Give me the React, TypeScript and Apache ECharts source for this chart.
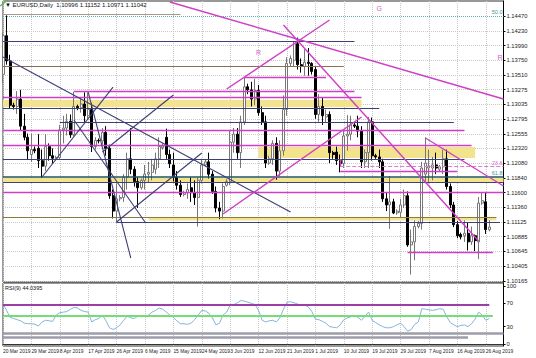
import React, { useEffect, useRef } from "react";
import * as echarts from "echarts";

// ---------- categories (daily bars incl. Sunday bars) ----------
const marDays = [20, 21, 22, 24, 25, 26, 27, 28, 29, 31];
const aprDays = [1, 2, 3, 4, 5, 7, 8, 9, 10, 11, 12, 14, 15, 16, 17, 18, 19, 21, 22, 23, 24, 25, 26, 28, 29, 30];
const mayDays = [1, 2, 3, 5, 6, 7, 8, 9, 10, 12, 13, 14, 15, 16, 17, 19, 20, 21, 22, 23, 24, 26, 27, 28, 29, 30, 31];
const junDays = [2, 3, 4, 5, 6, 7, 9, 10, 11, 12, 13, 14, 16, 17, 18, 19, 20, 21, 23, 24, 25, 26, 27, 28, 30];
const julDays = [1, 2, 3, 4, 5, 7, 8, 9, 10, 11, 12, 14, 15, 16, 17, 18, 19, 21, 22, 23, 24, 25, 26, 28, 29, 30, 31];
const augDays = [1, 2, 4, 5, 6, 7, 8, 9, 11, 12, 13, 14, 15, 16, 18, 19, 20, 21, 22, 23, 25, 26, 27];
const dates: string[] = [
  ...marDays.map((d) => `${d} Mar 2019`),
  ...aprDays.map((d) => `${d} Apr 2019`),
  ...mayDays.map((d) => `${d} May 2019`),
  ...junDays.map((d) => `${d} Jun 2019`),
  ...julDays.map((d) => `${d} Jul 2019`),
  ...augDays.map((d) => `${d} Aug 2019`),
];
const shiftSlots = [" ", "  ", "   ", "    "];

// ---------- EURUSD daily OHLC ----------
const opens = [
  1.1352, 1.1415, 1.1374, 1.1302, 1.1300, 1.1312, 1.1268, 1.1250, 1.1222, 1.1230,
  1.1232, 1.1212, 1.1203, 1.1235, 1.1220, 1.1216, 1.1217, 1.1262, 1.1265, 1.1276,
  1.1254, 1.1300, 1.1298, 1.1304, 1.1285, 1.1295, 1.1235, 1.1245, 1.1244, 1.1258,
  1.1232, 1.1155, 1.1130, 1.1150, 1.1152, 1.1185, 1.1215, 1.1198, 1.1178, 1.1168,
  1.1180, 1.1190, 1.1193, 1.1198, 1.1215, 1.1233, 1.1250, 1.1222, 1.1205, 1.1185,
  1.1172, 1.1157, 1.1160, 1.1168, 1.1160, 1.1152, 1.1180, 1.1205, 1.1210, 1.1190,
  1.1162, 1.1135, 1.1130, 1.1172, 1.1178, 1.1242, 1.1255, 1.1225, 1.1275, 1.1332,
  1.1327, 1.1312, 1.1326, 1.1290, 1.1275, 1.1208, 1.1215, 1.1240, 1.1195, 1.1228,
  1.1295, 1.1370, 1.1375, 1.1402, 1.1368, 1.1365, 1.1372, 1.1370, 1.1360, 1.1287,
  1.1300, 1.1283, 1.1287, 1.1225, 1.1226, 1.1212, 1.1207, 1.1252, 1.1255, 1.1270,
  1.1268, 1.1260, 1.1210, 1.1225, 1.1275, 1.1220, 1.1218, 1.1210, 1.1150, 1.1140,
  1.1145, 1.1127, 1.1128, 1.1140, 1.1155, 1.1075, 1.1080, 1.1105, 1.1110, 1.1190,
  1.1200, 1.1200, 1.1205, 1.1198, 1.1202, 1.1215, 1.1170, 1.1140, 1.1108, 1.1092,
  1.1090, 1.1094, 1.1080, 1.1090, 1.1080, 1.1143, 1.1145, 1.10996,
];
const closes = [
  1.1415, 1.1374, 1.1302, 1.1300, 1.1312, 1.1268, 1.1250, 1.1228, 1.1230, 1.1228,
  1.1212, 1.1203, 1.1235, 1.1220, 1.1216, 1.1217, 1.1262, 1.1265, 1.1276, 1.1254,
  1.1300, 1.1298, 1.1304, 1.1285, 1.1295, 1.1235, 1.1245, 1.1244, 1.1258, 1.1232,
  1.1155, 1.1130, 1.1150, 1.1152, 1.1185, 1.1215, 1.1198, 1.1178, 1.1168, 1.1180,
  1.1190, 1.1193, 1.1205, 1.1215, 1.1235, 1.1236, 1.1222, 1.1207, 1.1185, 1.1172,
  1.1157, 1.1160, 1.1165, 1.1160, 1.1152, 1.1180, 1.1205, 1.1210, 1.1190, 1.1162,
  1.1135, 1.1130, 1.1170, 1.1178, 1.1242, 1.1255, 1.1225, 1.1275, 1.1332, 1.1327,
  1.1312, 1.1326, 1.1290, 1.1275, 1.1208, 1.1215, 1.1240, 1.1195, 1.1228, 1.1295,
  1.1370, 1.1378, 1.1402, 1.1368, 1.1365, 1.1372, 1.1370, 1.1357, 1.1287, 1.1300,
  1.1285, 1.1287, 1.1225, 1.1222, 1.1212, 1.1207, 1.1252, 1.1255, 1.1270, 1.1268,
  1.1260, 1.1210, 1.1225, 1.1275, 1.1220, 1.1218, 1.1210, 1.1150, 1.1140, 1.1145,
  1.1127, 1.1130, 1.1140, 1.1155, 1.1075, 1.1080, 1.1105, 1.1110, 1.1200, 1.1208,
  1.1203, 1.1205, 1.1200, 1.1202, 1.1215, 1.1170, 1.1140, 1.1108, 1.1090, 1.1088,
  1.1094, 1.1080, 1.1090, 1.1082, 1.1143, 1.1147, 1.1100, 1.11042,
];
const lows = [
  1.1338, 1.1368, 1.1297, 1.1295, 1.1288, 1.1261, 1.1245, 1.1214, 1.1210, 1.1224,
  1.1200, 1.1184, 1.1195, 1.1212, 1.1207, 1.1212, 1.1213, 1.1240, 1.1253, 1.1249,
  1.1251, 1.1294, 1.1290, 1.1275, 1.1280, 1.1226, 1.1230, 1.1240, 1.1238, 1.1220,
  1.1150, 1.1118, 1.1111, 1.1146, 1.1145, 1.1165, 1.1190, 1.1170, 1.1135, 1.1165,
  1.1165, 1.1177, 1.1180, 1.1190, 1.1200, 1.1230, 1.1215, 1.1200, 1.1178, 1.1165,
  1.1153, 1.1154, 1.1150, 1.1145, 1.1140, 1.1105, 1.1175, 1.1202, 1.1183, 1.1158,
  1.1128, 1.1117, 1.1118, 1.1170, 1.1172, 1.1225, 1.1215, 1.1200, 1.1270, 1.1320,
  1.1300, 1.1302, 1.1285, 1.1270, 1.1200, 1.1205, 1.1205, 1.1181, 1.1187, 1.1220,
  1.1285, 1.1365, 1.1365, 1.1360, 1.1355, 1.1350, 1.1350, 1.1352, 1.1280, 1.1275,
  1.1270, 1.1275, 1.1208, 1.1215, 1.1205, 1.1193, 1.1200, 1.1228, 1.1245, 1.1265,
  1.1250, 1.1200, 1.1200, 1.1200, 1.1212, 1.1215, 1.1200, 1.1145, 1.1130, 1.1101,
  1.1125, 1.1124, 1.1120, 1.1135, 1.1072, 1.1027, 1.1050, 1.1102, 1.1100, 1.1175,
  1.1175, 1.1180, 1.1190, 1.1195, 1.1190, 1.1165, 1.1135, 1.1104, 1.1086, 1.1084,
  1.1080, 1.1066, 1.1075, 1.1065, 1.1052, 1.1140, 1.1093, 1.10971,
];
const highs = [
  1.1420, 1.1448, 1.1384, 1.1306, 1.1325, 1.1327, 1.1288, 1.1256, 1.1256, 1.1235,
  1.1255, 1.1230, 1.1255, 1.1240, 1.1232, 1.1220, 1.1270, 1.1285, 1.1288, 1.1287,
  1.1324, 1.1303, 1.1315, 1.1323, 1.1323, 1.1305, 1.1250, 1.1248, 1.1265, 1.1268,
  1.1238, 1.1165, 1.1175, 1.1156, 1.1190, 1.1225, 1.1265, 1.1203, 1.1185, 1.1183,
  1.1205, 1.1210, 1.1215, 1.1225, 1.1250, 1.1240, 1.1264, 1.1230, 1.1225, 1.1195,
  1.1180, 1.1163, 1.1175, 1.1185, 1.1180, 1.1185, 1.1215, 1.1214, 1.1225, 1.1195,
  1.1170, 1.1145, 1.1175, 1.1182, 1.1260, 1.1265, 1.1265, 1.1285, 1.1347, 1.1337,
  1.1340, 1.1345, 1.1335, 1.1300, 1.1285, 1.1220, 1.1245, 1.1250, 1.1245, 1.1318,
  1.1380, 1.1383, 1.1405, 1.1412, 1.1378, 1.1393, 1.1395, 1.1372, 1.1365, 1.1320,
  1.1315, 1.1295, 1.1292, 1.1228, 1.1235, 1.1222, 1.1262, 1.1286, 1.1285, 1.1273,
  1.1285, 1.1268, 1.1230, 1.1283, 1.1282, 1.1223, 1.1230, 1.1215, 1.1160, 1.1187,
  1.1150, 1.1133, 1.1150, 1.1165, 1.1162, 1.1100, 1.1115, 1.1114, 1.1210, 1.1250,
  1.1230, 1.1218, 1.1225, 1.1205, 1.1230, 1.1230, 1.1175, 1.1145, 1.1114, 1.1095,
  1.1115, 1.1112, 1.1105, 1.1092, 1.1153, 1.1160, 1.1160, 1.11152,
];

// ---------- RSI ----------
const rsiValues = [
  70, 58, 46, 44, 42, 40, 36, 35, 35, 34,
  31, 38, 41, 40, 39, 50, 54, 55, 56, 60,
  63, 62, 58, 56, 55, 38, 42, 44, 50, 40,
  28, 25, 28, 33, 41, 48, 45, 44, 48, 47,
  48, 50, 55, 58, 62, 60, 55, 50, 46, 40,
  35, 35, 34, 36, 42, 50, 58, 57, 53, 45,
  33, 36, 50, 55, 67, 68, 71, 75, 74, 72,
  70, 68, 58, 41, 38, 40, 41, 38, 45, 60,
  72, 73, 71, 69, 67, 67, 64, 56, 43, 42,
  39, 36, 30, 29, 28, 33, 42, 45, 47, 49,
  46, 41, 48, 55, 41, 37, 33, 30, 28, 28,
  30, 33, 36, 30, 22, 25, 34, 38, 61, 60,
  59, 58, 59, 61, 60, 47, 37, 33, 30, 32,
  33, 30, 35, 43, 55, 50, 41, 44,
];

// ---------- tick labels ----------
const priceTickLabels = [
  "1.14470", "1.14230", "1.13990", "1.13750", "1.13510", "1.13275", "1.13035",
  "1.12795", "1.12555", "1.12320", "1.12080", "1.11840", "1.11600", "1.11360",
  "1.11125", "1.10885", "1.10645", "1.10405", "1.10165",
];
const rsiTickLabels = ["100", "70", "30", "0"];

// ---------- drawn objects (bar index, price) ----------
const hLines = [
  { p: 1.14498, a: 0, b: 50, k: "taupe" },
  { p: 1.1447, a: 0, b: 141, k: "fib", t: "50.0" },
  { p: 1.14056, a: 0, b: 99, k: "navy" },
  { p: 1.13658, a: 0, b: 96, k: "brown" },
  { p: 1.13479, a: 68, b: 91, k: "magenta" },
  { p: 1.13243, a: 20, b: 99, k: "magenta" },
  { p: 1.13146, a: 0, b: 101, k: "magenta" },
  { p: 1.1297, a: 0, b: 106, k: "navy" },
  { p: 1.12736, a: 16, b: 127, k: "navy" },
  { p: 1.12606, a: 0, b: 130, k: "magenta" },
  { p: 1.12374, a: 0, b: 132, k: "magenta" },
  { p: 1.12141, a: 0, b: 130, k: "navy" },
  { p: 1.12024, a: 95, b: 141, k: "fibPink", t: "23.6" },
  { p: 1.11943, a: 95, b: 128, k: "magenta" },
  { p: 1.11859, a: 0, b: 141, k: "teal", t: "61.8" },
  { p: 1.11764, a: 0, b: 141, k: "navy" },
  { p: 1.1161, a: 0, b: 141, k: "magenta" },
  { p: 1.11204, a: 0, b: 139, k: "olive" },
  { p: 1.11127, a: 32, b: 140, k: "navy" },
  { p: 1.10627, a: 114, b: 138, k: "magenta" },
];
const bands = [
  { p1: 1.13105, p2: 1.12991, a: 0, b: 101 },
  { p1: 1.12341, p2: 1.12163, a: 72, b: 133 },
  { p1: 1.11838, p2: 1.11772, a: 0, b: 141 },
  { p1: 1.11196, p2: 1.11147, a: 41, b: 139 },
];
const trendLines = [
  { a: 0, pa: 1.13804, b: 81, pb: 1.11285, k: "navy" },
  { a: 11, pa: 1.11854, b: 31, pb: 1.13316, k: "navy" },
  { a: 24, pa: 1.13235, b: 36, pb: 1.10538, k: "navy" },
  { a: 20, pa: 1.1278, b: 40, pb: 1.11123, k: "navy" },
  { a: 32, pa: 1.11123, b: 56, pb: 1.12244, k: "navy" },
  { a: 28, pa: 1.1226, b: 48, pb: 1.13186, k: "navy" },
  { a: 47, pa: 1.14698, b: 141, pb: 1.13121, k: "magenta" },
  { a: 63, pa: 1.13284, b: 92, pb: 1.14405, k: "magenta" },
  { a: 79, pa: 1.14324, b: 134, pb: 1.10814, k: "magenta" },
  { a: 62, pa: 1.11253, b: 101, pb: 1.12829, k: "magenta" },
  { a: 119, pa: 1.12488, b: 141, pb: 1.11708, k: "magenta" },
  { a: 95, pa: 1.12146, b: 95, pb: 1.12024, k: "magenta" },
];
const letters = [
  { i: 106, p: 1.146, t: "G" },
  { i: 72, p: 1.13885, t: "R" },
  { i: 140, p: 1.13788, t: "R" },
];
const rsiLevels = [
  { v: 67.3, a: 0, b: 137, k: "purple" },
  { v: 48.4, a: 0, b: 138, k: "green" },
  { v: 17.9, a: 0, b: 141, k: "gray" },
  { v: 11.0, a: 0, b: 131, k: "gray" },
];

const TITLE = "▼ EURUSD,Daily  1.10996 1.11152 1.10971 1.11042";
const RSI_TITLE = "RSI(9) 44.0395";

// ---------- styles ----------
const FONT = "'Liberation Sans', Arial, sans-serif";
const styles: Record<string, any> = {
  navy: { color: "#3c3f78", width: 1.1, type: "solid" },
  brown: { color: "#8c6e55", width: 1.1, type: "solid" },
  taupe: { color: "#a59a90", width: 1.1, type: "solid" },
  magenta: { color: "#cf3fc6", width: 1.4, type: "solid" },
  olive: { color: "#8a7a40", width: 1.1, type: "solid" },
  teal: { color: "#1f5560", width: 1.5, type: "solid" },
  fib: { color: "#5fb0b0", width: 1, type: "dotted" },
  fibPink: { color: "#e07ad6", width: 1, type: "dashed" },
  purple: { color: "#9b3fa6", width: 2, type: "solid" },
  green: { color: "#76dc76", width: 2, type: "solid" },
  gray: { color: "#9d9cab", width: 2.5, type: "solid" },
};
const labelColors: Record<string, string> = { fib: "#3a9a9a", fibPink: "#d86ad0", teal: "#3a9a9a" };

function buildOption() {
  const cats = [...dates, ...shiftSlots];
  const candles = opens.map((o, i) => [o, closes[i], lows[i], highs[i]]);
  const lastClose = closes[closes.length - 1];
  const every8 = (idx: number) => idx % 8 === 0 && idx < dates.length - 1;

  const mlData: any[] = [];
  hLines.forEach((h: any) => {
    mlData.push([
      {
        coord: [h.a, h.p],
        lineStyle: styles[h.k],
        label: h.t
          ? {
              show: true,
              formatter: h.t,
              position: "insideEndTop",
              distance: 1,
              fontSize: 5.5,
              color: labelColors[h.k],
              fontFamily: FONT,
            }
          : { show: false },
      },
      { coord: [h.b, h.p] },
    ]);
  });
  trendLines.forEach((t) => {
    mlData.push([{ coord: [t.a, t.pa], lineStyle: styles[t.k] }, { coord: [t.b, t.pb] }]);
  });
  mlData.push({
    yAxis: lastClose,
    lineStyle: { opacity: 0, width: 0 },
    label: {
      show: true,
      position: "end",
      distance: 2,
      formatter: lastClose.toFixed(5),
      backgroundColor: "#000",
      color: "#fff",
      fontSize: 6,
      padding: [1, 2, 0, 2],
      fontFamily: FONT,
    },
  });

  const rsiMl = rsiLevels.map((r) => [
    { coord: [r.a, r.v], lineStyle: styles[r.k] },
    { coord: [r.b, r.v] },
  ]);

  return {
    animation: false,
    backgroundColor: "#ffffff",
    textStyle: { fontFamily: FONT },
    grid: [
      { left: 3, top: 1, width: 500.5, height: 281, show: true, borderColor: "#333", borderWidth: 1 },
      { left: 3, top: 283, width: 500.5, height: 63, show: true, borderColor: "#333", borderWidth: 1 },
    ],
    xAxis: [
      {
        type: "category",
        gridIndex: 0,
        data: cats,
        boundaryGap: false,
        axisLine: { show: false },
        axisTick: { show: false },
        axisLabel: { show: false },
        splitLine: { show: true, interval: every8, lineStyle: { color: "#c9c9c9", type: "dotted", width: 1 } },
      },
      {
        type: "category",
        gridIndex: 1,
        data: cats,
        boundaryGap: false,
        axisLine: { show: true, lineStyle: { color: "#333" } },
        axisTick: { show: false },
        axisLabel: {
          show: true,
          interval: every8,
          showMinLabel: true,
          hideOverlap: false,
          align: "left",
          margin: 3,
          fontSize: 4.9,
          color: "#222",
          fontFamily: FONT,
        },
        splitLine: { show: true, interval: every8, lineStyle: { color: "#c9c9c9", type: "dotted", width: 1 } },
      },
    ],
    yAxis: [
      {
        type: "value",
        gridIndex: 0,
        position: "right",
        min: 1.10148,
        max: 1.14714,
        axisLine: { show: true, lineStyle: { color: "#000" } },
        axisTick: { show: true, length: 2, customValues: priceTickLabels.map(Number), lineStyle: { color: "#000" } },
        axisLabel: {
          show: true,
          customValues: priceTickLabels.map(Number),
          formatter: (v: number) => {
            const f = priceTickLabels.find((t) => Math.abs(Number(t) - v) < 1e-7);
            return f ?? v.toFixed(5);
          },
          margin: 3,
          fontSize: 5.8,
          color: "#222",
          fontFamily: FONT,
        },
        splitLine: { show: true, lineStyle: { color: "#c9c9c9", type: "dotted", width: 1 } },
      },
      {
        type: "value",
        gridIndex: 1,
        position: "right",
        min: -3.4,
        max: 105.2,
        axisLine: { show: true, lineStyle: { color: "#000" } },
        axisTick: { show: true, length: 2, customValues: rsiTickLabels.map(Number), lineStyle: { color: "#000" } },
        axisLabel: {
          show: true,
          customValues: rsiTickLabels.map(Number),
          formatter: (v: number) => String(v),
          margin: 3,
          fontSize: 5.8,
          color: "#222",
          fontFamily: FONT,
        },
        splitLine: { show: false },
      },
    ],
    series: [
      {
        type: "candlestick",
        xAxisIndex: 0,
        yAxisIndex: 0,
        data: candles,
        barWidth: 2.5,
        itemStyle: {
          color: "#ffffff",
          color0: "#000000",
          borderColor: "#777777",
          borderColor0: "#000000",
          borderWidth: 1,
        },
        markArea: {
          silent: true,
          itemStyle: { color: "#f2e38c" },
          data: bands.map((b) => [{ coord: [b.a, b.p1] }, { coord: [b.b, b.p2] }]),
        },
        markLine: {
          silent: true,
          symbol: ["none", "none"],
          label: { show: false },
          data: mlData,
        },
        markPoint: {
          silent: true,
          symbol: "circle",
          symbolSize: 1,
          itemStyle: { color: "rgba(0,0,0,0)" },
          label: { show: true, position: "inside", fontSize: 7, color: "#d060d0", fontFamily: FONT },
          data: letters.map((l) => ({ coord: [l.i, l.p], label: { formatter: l.t } })),
        },
      },
      {
        type: "line",
        xAxisIndex: 1,
        yAxisIndex: 1,
        data: rsiValues,
        symbol: "none",
        lineStyle: { color: "#86b3db", width: 1 },
        markLine: {
          silent: true,
          symbol: ["none", "none"],
          label: { show: false },
          data: rsiMl,
        },
      },
    ],
    graphic: [
      {
        type: "text",
        left: 5,
        top: 2,
        style: { text: TITLE, fontSize: 6, fill: "#111", fontFamily: FONT },
        z: 100,
      },
      {
        type: "text",
        left: 5,
        top: 285,
        style: { text: RSI_TITLE, fontSize: 5.5, fill: "#111", fontFamily: FONT },
        z: 100,
      },
      {
        type: "line",
        shape: { x1: 0, y1: 6, x2: 8, y2: 0 },
        style: { stroke: "#4cb84c", lineWidth: 1.2 },
        z: 100,
      },
    ],
  };
}

export default function App() {
  const ref = useRef<HTMLDivElement>(null);
  useEffect(() => {
    if (!ref.current) return;
    const chart = echarts.init(ref.current, null, { renderer: "svg" });
    chart.setOption(buildOption() as any);
    return () => chart.dispose();
  }, []);
  return (
    <div
      ref={ref}
      style={{ position: "fixed", left: 0, top: 0, width: 536, height: 358, background: "#fff" }}
    />
  );
}
